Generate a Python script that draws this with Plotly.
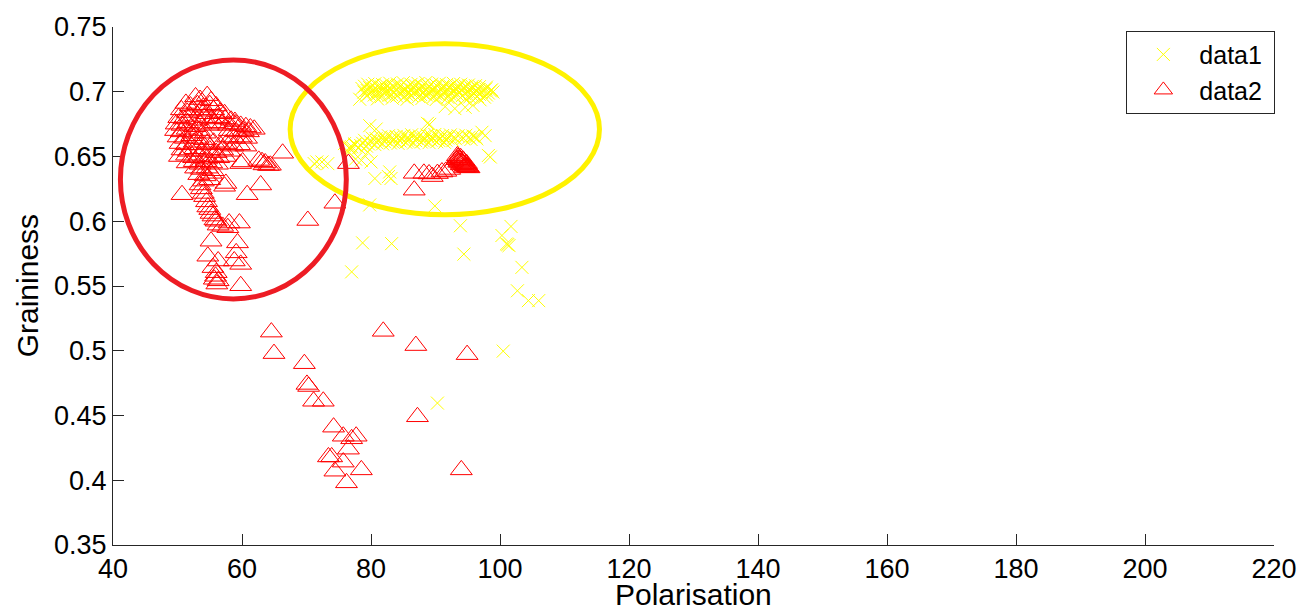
import plotly.graph_objects as go

# ---------------- data1 (yellow crosses) ----------------
d1_x = [
    # upper dense band
    79.5, 80.6, 81.8, 82.9, 84.1, 85.0, 86.2, 87.3, 88.5, 89.4, 90.6, 91.7, 92.8, 93.9, 95.1, 96.2,
    79.0, 80.2, 81.3, 82.3, 83.5, 84.6, 85.7, 86.8, 87.9, 89.0, 90.1, 91.2, 92.3, 93.5, 94.6, 95.7, 96.8, 97.9,
    78.6, 79.8, 80.9, 81.7, 83.0, 84.3, 85.4, 86.5, 87.6, 88.8, 89.9, 91.0, 92.1, 93.3, 94.4, 95.6, 96.7, 97.8, 98.7,
    79.4, 80.5, 81.9, 83.1, 84.0, 85.2, 86.4, 87.5, 88.6, 89.6, 90.9, 92.0, 93.1, 94.1, 95.3, 96.4, 97.5, 98.5,
    78.9, 80.1, 81.3, 82.4, 83.6, 84.7, 85.8, 86.9, 88.0, 89.2, 90.3, 91.4, 92.6, 93.7, 94.8, 96.0, 97.1, 98.2, 98.9,
    79.7, 80.9, 82.1, 83.2, 84.4, 85.5, 86.6, 87.7, 88.9, 90.0, 91.1, 92.2, 93.4, 94.5, 95.6, 96.8, 97.9,
    79.3, 80.5, 81.6, 82.8, 84.0, 85.1, 86.3, 87.4, 88.6, 89.7, 90.8, 91.9, 93.0, 94.2, 95.3, 96.5, 97.6,
    81.0, 83.3, 85.6, 87.9, 90.1, 92.4, 94.6, 96.9,
    # lower dense band
    80.2, 81.5, 82.7, 83.9, 85.1, 86.3, 87.5, 88.7, 89.9, 91.1, 92.3, 93.5, 94.7, 95.8,
    79.0, 80.8, 82.1, 83.3, 84.5, 85.7, 86.9, 88.1, 89.3, 90.5, 91.7, 92.9, 94.1, 95.2, 96.2,
    77.5, 78.7, 79.9, 81.1, 82.3, 83.5, 84.7, 85.9, 87.1, 88.3, 89.5, 90.7, 91.9, 93.1, 94.3, 95.5, 96.4,
    77.0, 78.4, 79.6, 80.9, 82.1, 83.3, 84.5, 85.7, 86.9, 88.1, 89.3, 90.5, 91.6, 92.7,
    76.8, 78.1, 79.3, 80.6, 81.8, 83.0, 84.2, 85.4, 86.6, 87.8, 89.0, 90.2, 91.4,
    # scattered
    78.25, 88.75, 89.1, 79.8, 80.8, 97.7, 97.2, 98.2, 98.5,
    77.5, 76.7, 79.5, 78.5, 80.0, 80.6, 82.9, 83.1, 82.7,
    71.6, 72.4, 73.3, 71.2, 75.9, 76.6, 77.6, 79.8,
    89.9, 93.86, 101.7, 100.3, 101.2, 101.4, 101.0, 94.4, 103.4, 102.7, 104.4, 106.0,
    78.7, 83.2, 77.0, 100.5, 90.3,
    91.5, 93.0, 94.6, 95.8,
]
d1_y = [
    0.7058, 0.7062, 0.7055, 0.7066, 0.7060, 0.7070, 0.7057, 0.7064, 0.7071, 0.7059, 0.7066, 0.7055, 0.7063, 0.7058, 0.7052, 0.7047,
    0.7042, 0.7048, 0.7040, 0.7050, 0.7044, 0.7047, 0.7041, 0.7049, 0.7045, 0.7043, 0.7051, 0.7046, 0.7040, 0.7048, 0.7044, 0.7041, 0.7039, 0.7036,
    0.7025, 0.7031, 0.7020, 0.7036, 0.7028, 0.7034, 0.7022, 0.7038, 0.7027, 0.7033, 0.7024, 0.7030, 0.7037, 0.7021, 0.7029, 0.7025, 0.7018, 0.7022, 0.7015,
    0.7010, 0.7015, 0.7008, 0.7013, 0.7017, 0.7009, 0.7014, 0.7011, 0.7016, 0.7009, 0.7013, 0.7012, 0.7017, 0.7010, 0.7014, 0.7008, 0.7012, 0.7007,
    0.6998, 0.7004, 0.6992, 0.7007, 0.6996, 0.7002, 0.6990, 0.7005, 0.6994, 0.7001, 0.6988, 0.6999, 0.7006, 0.6993, 0.7000, 0.6987, 0.6995, 0.6990, 0.6998,
    0.6982, 0.6979, 0.6985, 0.6977, 0.6983, 0.6980, 0.6986, 0.6978, 0.6981, 0.6984, 0.6976, 0.6982, 0.6979, 0.6985, 0.6977, 0.6980, 0.6975,
    0.6968, 0.6975, 0.6962, 0.6972, 0.6966, 0.6958, 0.6970, 0.6963, 0.6974, 0.6960, 0.6968, 0.6957, 0.6965, 0.6971, 0.6959, 0.6964, 0.6958,
    0.6945, 0.6950, 0.6942, 0.6948, 0.6940, 0.6946, 0.6943, 0.6938,
    0.6642, 0.6651, 0.6660, 0.6655, 0.6663, 0.6668, 0.6659, 0.6665, 0.6670, 0.6662, 0.6667, 0.6660, 0.6664, 0.6658,
    0.6625, 0.6638, 0.6648, 0.6646, 0.6652, 0.6649, 0.6656, 0.6651, 0.6657, 0.6653, 0.6655, 0.6650, 0.6652, 0.6648, 0.6650,
    0.6590, 0.6602, 0.6615, 0.6622, 0.6630, 0.6627, 0.6636, 0.6630, 0.6639, 0.6633, 0.6641, 0.6636, 0.6643, 0.6637, 0.6640, 0.6632, 0.6636,
    0.6575, 0.6585, 0.6597, 0.6607, 0.6614, 0.6616, 0.6620, 0.6618, 0.6623, 0.6621, 0.6626, 0.6624, 0.6627, 0.6622,
    0.6555, 0.6568, 0.6580, 0.6592, 0.6598, 0.6605, 0.6601, 0.6610, 0.6604, 0.6612, 0.6607, 0.6614, 0.6609,
    0.6942, 0.6756, 0.6748, 0.6738, 0.6712, 0.6661, 0.6687, 0.6508, 0.6496,
    0.6597, 0.6572, 0.6534, 0.6470, 0.6458, 0.6330, 0.6381, 0.6330, 0.6345,
    0.6458, 0.6458, 0.6445, 0.6445, 0.6600, 0.6530, 0.6480, 0.6126,
    0.6118, 0.5965, 0.5960, 0.5890, 0.5820, 0.5812, 0.5825, 0.5746, 0.5644, 0.5463, 0.5387, 0.5387,
    0.5833, 0.5827, 0.5609, 0.4997, 0.4596,
    0.6885, 0.6870, 0.6880, 0.6895,
]

# ---------------- data2 (red triangles) ----------------
d2_x = [
    # dense cluster
    52.8, 53.5, 54.6, 55.2, 51.3, 52.0, 53.1, 54.0, 55.0, 56.0,
    50.6, 51.5, 52.4, 53.6, 54.5, 55.6, 56.6, 57.3,
    50.2, 51.0, 52.0, 53.0, 54.2, 55.3, 56.3, 57.4, 58.3, 58.9,
    49.8, 50.7, 51.6, 52.7, 53.6, 54.8, 55.8, 56.9, 57.9, 59.0, 59.8, 60.6, 61.3, 61.9,
    49.7, 50.6, 51.5, 52.4, 53.4, 54.3, 58.0, 59.1, 60.2, 61.0,
    50.1, 51.2, 52.2, 53.2, 54.2, 57.8, 58.8, 59.9, 60.7,
    50.4, 51.4, 52.6, 53.6, 54.6, 55.6, 56.6, 57.6, 58.6, 59.6, 60.6,
    50.7, 51.7, 52.7, 53.8, 55.0, 56.0, 57.0, 58.1,
    50.3, 51.4, 52.5, 53.4, 54.5, 55.5, 56.4, 57.4,
    51.5, 52.6, 53.5, 54.4, 55.3, 56.2,
    52.8, 53.7, 54.6, 55.5, 53.3, 54.3, 55.2, 54.0, 55.0, 53.5,
    # tail
    53.7, 54.2, 54.7, 55.2, 55.8, 56.3, 57.0, 57.8, 54.0, 54.5, 55.0, 55.5, 56.0,
    50.7, 57.3, 60.8, 62.9, 58.0, 59.6, 55.2, 59.3, 54.7, 59.1, 56.3, 58.8, 59.8,
    55.5, 56.0, 55.7, 56.3, 59.8, 55.9, 56.1,
    # right of cluster
    66.3, 62.6, 63.1, 63.6, 64.1, 63.4, 60.1, 59.8, 64.4, 76.5, 74.4, 70.2, 57.5,
    # lower scattered
    64.55, 64.96, 69.67, 70.07, 70.33, 71.1, 72.6, 74.2, 75.7, 77.0, 77.7, 76.5,
    73.4, 73.9, 75.7, 74.4, 78.5, 76.2, 81.9, 86.95, 94.9, 87.2, 94.0,
    # near the yellow group
    86.7, 86.7, 88.2, 89.0, 89.5, 90.3, 91.0, 91.6, 92.2,
    93.4, 93.5, 93.6, 93.7, 93.8, 93.9, 94.0, 94.15, 94.3, 94.45, 94.6, 94.75, 94.9, 95.05, 95.2,
    93.3, 93.6, 94.0, 94.5, 93.9, 94.3, 94.8,
]
d2_y = [
    0.696, 0.694, 0.697, 0.693, 0.691, 0.689, 0.690, 0.688, 0.690, 0.689,
    0.686, 0.684, 0.686, 0.685, 0.683, 0.686, 0.684, 0.683,
    0.680, 0.679, 0.681, 0.678, 0.680, 0.679, 0.680, 0.679, 0.678, 0.677,
    0.675, 0.674, 0.676, 0.673, 0.675, 0.674, 0.676, 0.675, 0.674, 0.675, 0.674, 0.673, 0.672, 0.671,
    0.670, 0.669, 0.671, 0.668, 0.670, 0.668, 0.670, 0.669, 0.670, 0.669,
    0.665, 0.664, 0.666, 0.664, 0.663, 0.665, 0.664, 0.665, 0.664,
    0.660, 0.659, 0.661, 0.659, 0.660, 0.661, 0.659, 0.660, 0.658, 0.659, 0.658,
    0.655, 0.654, 0.656, 0.654, 0.655, 0.653, 0.655, 0.654,
    0.650, 0.651, 0.649, 0.650, 0.648, 0.650, 0.649, 0.650,
    0.645, 0.646, 0.644, 0.646, 0.645, 0.644,
    0.641, 0.640, 0.641, 0.639, 0.636, 0.635, 0.637, 0.631, 0.632, 0.628,
    0.625, 0.619, 0.611, 0.606, 0.601, 0.597, 0.596, 0.595, 0.6215, 0.615, 0.609, 0.604, 0.600,
    0.6205, 0.627, 0.6205, 0.628, 0.5986, 0.5986, 0.5846, 0.5833, 0.573, 0.5756, 0.5693, 0.5693, 0.5667,
    0.5642, 0.5603, 0.5552, 0.554, 0.5502, 0.5575, 0.5515,
    0.6525, 0.647, 0.646, 0.645, 0.643, 0.6435, 0.6458, 0.6445, 0.6432, 0.6445, 0.6139, 0.6006, 0.6292,
    0.5144, 0.4978, 0.490, 0.474, 0.4724, 0.461, 0.461, 0.441, 0.434, 0.432, 0.434, 0.424,
    0.418, 0.418, 0.414, 0.407, 0.408, 0.398, 0.515, 0.504, 0.497, 0.449, 0.408,
    0.637, 0.624, 0.637, 0.6365, 0.6345, 0.6368, 0.638, 0.6385, 0.640,
    0.6505, 0.6495, 0.6488, 0.648, 0.6472, 0.6465, 0.6458, 0.645, 0.6443, 0.6437, 0.643, 0.6425, 0.642, 0.6416, 0.6412,
    0.6475, 0.6455, 0.6435, 0.6415, 0.649, 0.647, 0.6445,
]

x_ticks = [40, 60, 80, 100, 120, 140, 160, 180, 200, 220]
y_ticks = [0.35, 0.4, 0.45, 0.5, 0.55, 0.6, 0.65, 0.7, 0.75]
y_tick_text = ["0.35", "0.4", "0.45", "0.5", "0.55", "0.6", "0.65", "0.7", "0.75"]

# highlighted regions (ellipse bounding boxes, data units)
red_ellipse = (41.15, 0.5400, 76.17, 0.7246)
yellow_ellipse = (67.46, 0.6050, 115.42, 0.7370)

FONT = "Liberation Sans, Arial, sans-serif"

fig = go.Figure()
fig.add_trace(go.Scatter(
    x=d1_x, y=d1_y, mode="markers", name="data1\u00a0",
    marker=dict(symbol="x-thin-open", size=13, color="#ffff00",
                line=dict(color="#ffff00", width=1)),
))
fig.add_trace(go.Scatter(
    x=d2_x, y=d2_y, mode="markers", name="data2\u00a0",
    marker=dict(symbol="triangle-up-open", size=19, color="#ff0000",
                line=dict(color="#ff0000", width=1)),
))

fig.add_shape(type="circle", xref="x", yref="y",
              x0=yellow_ellipse[0], y0=yellow_ellipse[1], x1=yellow_ellipse[2], y1=yellow_ellipse[3],
              line=dict(color="#fff200", width=5), layer="above")
fig.add_shape(type="circle", xref="x", yref="y",
              x0=red_ellipse[0], y0=red_ellipse[1], x1=red_ellipse[2], y1=red_ellipse[3],
              line=dict(color="#ed1c24", width=5), layer="above")

L, R, T, B = 113.3, 26.3, 22.3, 68.4
W, H = 1309, 613
pw, ph = W - L - R, H - T - B

fig.add_annotation(text="Polarisation", xref="paper", yref="paper",
                   x=0.5, y=(H - B - 612) / ph, xanchor="center", yanchor="bottom",
                   showarrow=False, borderpad=0,
                   font=dict(family=FONT, size=30, color="black"))
fig.add_annotation(text="Graininess", xref="paper", yref="paper",
                   x=(27 - L) / pw, y=0.5, xanchor="center", yanchor="middle",
                   textangle=-90, showarrow=False, font=dict(family=FONT, size=30, color="black"))

axis_common = dict(showgrid=False, zeroline=False, showline=True, linecolor="#262626",
                   linewidth=1, ticks="inside", ticklen=11, tickcolor="#262626",
                   tickwidth=1, mirror=False,
                   tickfont=dict(family=FONT, size=27, color="black"))

fig.update_layout(
    width=W, height=H,
    margin=dict(l=L, r=R, t=T, b=B, pad=0),
    paper_bgcolor="white", plot_bgcolor="white",
    font=dict(family=FONT, color="black"),
    xaxis=dict(range=[40, 220], tickvals=x_ticks, **axis_common),
    yaxis=dict(range=[0.35, 0.75], tickvals=y_ticks, ticktext=y_tick_text, **axis_common),
    showlegend=True,
    legend=dict(x=(1134 - L) / pw, y=(H - B - 26) / ph, xanchor="left", yanchor="top",
                bgcolor="white", bordercolor="#262626", borderwidth=1,
                font=dict(family=FONT, size=25, color="black"), itemwidth=62),
)

fig.write_html("out.html")
